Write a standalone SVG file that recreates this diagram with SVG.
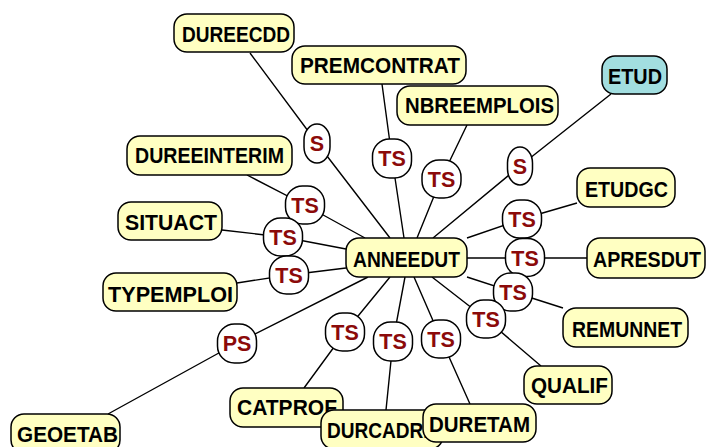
<svg xmlns="http://www.w3.org/2000/svg" width="706" height="447" viewBox="0 0 706 447">
  <style>
    .bg { fill: #ffffff; }
    .node rect { fill: #ffffc2; stroke: #000; stroke-width: 1.5; }
    .node.root rect { fill: #a2dee0; }
    .node text { font-family: "Liberation Sans", Arial, sans-serif; font-weight: bold; font-size: 22px; fill: #000; }
    .rel rect { fill: #ffffff; stroke: #000; stroke-width: 1.5; }
    .rel text { font-family: "Liberation Sans", Arial, sans-serif; font-weight: bold; font-size: 21.5px; fill: #8b0a0a; text-anchor: middle; }
    .links polyline { fill: none; stroke: #000; stroke-width: 1.4; }
  </style>
  <rect class="bg" x="0" y="0" width="706" height="447"/>

  <!-- connectors: ANNEEDUT -> relation bubble -> variable -->
  <g id="connectors" class="links">
    <polyline points="390,238 317,143 250,53"/>
    <polyline points="404,238 392,158 382,84"/>
    <polyline points="417,238 441,179 467,125"/>
    <polyline points="433,238 520,166 611,94"/>
    <polyline points="365,238 305,205 247,175"/>
    <polyline points="346,249 283,237 222,230"/>
    <polyline points="346,268 289,275 237,283"/>
    <polyline points="467,238 522,219 577,203"/>
    <polyline points="467,258 525,258 587,258"/>
    <polyline points="467,277 513,292 563,308"/>
    <polyline points="432,277 486,319 541,366"/>
    <polyline points="368,277 237,343 108,414"/>
    <polyline points="390,277 345,332 304,388"/>
    <polyline points="405,277 393,341 386,410"/>
    <polyline points="414,277 441,339 470,404"/>
  </g>

  <!-- variable nodes -->
  <g id="DUREECDD" class="node"><rect x="174" y="14" width="120" height="38" rx="13"/><text x="182" y="42" textLength="108" lengthAdjust="spacingAndGlyphs">DUREECDD</text></g>
  <g id="PREMCONTRAT" class="node"><rect x="292" y="46" width="174" height="38" rx="13"/><text x="300" y="73" textLength="160" lengthAdjust="spacingAndGlyphs">PREMCONTRAT</text></g>
  <g id="NBREEMPLOIS" class="node"><rect x="397" y="86" width="161" height="39" rx="13"/><text x="405" y="113" textLength="149" lengthAdjust="spacingAndGlyphs">NBREEMPLOIS</text></g>
  <g id="ETUD" class="node root"><rect x="602" y="56" width="65" height="38" rx="13"/><text x="608" y="84" textLength="54" lengthAdjust="spacingAndGlyphs">ETUD</text></g>
  <g id="DUREEINTERIM" class="node"><rect x="127" y="136" width="165" height="39" rx="13"/><text x="135" y="163" textLength="149" lengthAdjust="spacingAndGlyphs">DUREEINTERIM</text></g>
  <g id="ETUDGC" class="node"><rect x="577" y="168" width="98" height="39" rx="13"/><text x="585" y="197" textLength="83" lengthAdjust="spacingAndGlyphs">ETUDGC</text></g>
  <g id="SITUACT" class="node"><rect x="118" y="202" width="104" height="38" rx="13"/><text x="125" y="230" textLength="92" lengthAdjust="spacingAndGlyphs">SITUACT</text></g>
  <g id="ANNEEDUT" class="node"><rect x="346" y="238" width="121" height="39" rx="13"/><text x="353" y="267" textLength="107" lengthAdjust="spacingAndGlyphs">ANNEEDUT</text></g>
  <g id="APRESDUT" class="node"><rect x="587" y="238" width="118" height="40" rx="13"/><text x="593" y="267" textLength="108" lengthAdjust="spacingAndGlyphs">APRESDUT</text></g>
  <g id="TYPEMPLOI" class="node"><rect x="103" y="273" width="134" height="38" rx="13"/><text x="108" y="302" textLength="125" lengthAdjust="spacingAndGlyphs">TYPEMPLOI</text></g>
  <g id="REMUNNET" class="node"><rect x="563" y="308" width="125" height="39" rx="13"/><text x="572" y="337" textLength="110" lengthAdjust="spacingAndGlyphs">REMUNNET</text></g>
  <g id="QUALIF" class="node"><rect x="524" y="366" width="88" height="38" rx="13"/><text x="531" y="393" textLength="77" lengthAdjust="spacingAndGlyphs">QUALIF</text></g>
  <g id="GEOETAB" class="node"><rect x="11" y="414" width="109" height="39" rx="13"/><text x="17" y="442" textLength="101" lengthAdjust="spacingAndGlyphs">GEOETAB</text></g>
  <g id="CATPROF" class="node"><rect x="230" y="388" width="113" height="39" rx="13"/><text x="237" y="415" textLength="100" lengthAdjust="spacingAndGlyphs">CATPROF</text></g>
  <g id="DURCADRE" class="node"><rect x="321" y="410" width="122" height="39" rx="13"/><text x="327" y="438" textLength="109" lengthAdjust="spacingAndGlyphs">DURCADRE</text></g>
  <g id="DURETAM" class="node"><rect x="423" y="404" width="113" height="38" rx="13"/><text x="429" y="432" textLength="101" lengthAdjust="spacingAndGlyphs">DURETAM</text></g>

  <!-- relation bubbles -->
  <g id="rel-DUREECDD" class="rel"><rect x="304" y="124" width="26" height="39" rx="13" ry="16"/><text x="317" y="151">S</text></g>
  <g id="rel-PREMCONTRAT" class="rel"><rect x="372.5" y="139" width="39" height="39" rx="17"/><text x="392" y="166">TS</text></g>
  <g id="rel-NBREEMPLOIS" class="rel"><rect x="422" y="160" width="39" height="38" rx="17"/><text x="441.5" y="187">TS</text></g>
  <g id="rel-ETUD" class="rel"><rect x="507.5" y="147" width="25" height="38" rx="12.5" ry="16"/><text x="520" y="174">S</text></g>
  <g id="rel-DUREEINTERIM" class="rel"><rect x="285.5" y="186" width="39" height="38" rx="17"/><text x="305" y="213">TS</text></g>
  <g id="rel-SITUACT" class="rel"><rect x="263.5" y="218" width="39" height="38" rx="17"/><text x="283" y="245">TS</text></g>
  <g id="rel-TYPEMPLOI" class="rel"><rect x="269.5" y="256" width="39" height="38" rx="17"/><text x="289" y="283">TS</text></g>
  <g id="rel-ETUDGC" class="rel"><rect x="502.5" y="200" width="39" height="38" rx="17"/><text x="522" y="227">TS</text></g>
  <g id="rel-APRESDUT" class="rel"><rect x="505.5" y="238.5" width="39" height="38" rx="17"/><text x="525" y="266">TS</text></g>
  <g id="rel-REMUNNET" class="rel"><rect x="493.5" y="273" width="39" height="38" rx="17"/><text x="513" y="300">TS</text></g>
  <g id="rel-QUALIF" class="rel"><rect x="466.5" y="300" width="39" height="38" rx="17"/><text x="486" y="327">TS</text></g>
  <g id="rel-GEOETAB" class="rel"><rect x="217.5" y="324" width="39" height="39" rx="17"/><text x="237" y="351">PS</text></g>
  <g id="rel-CATPROF" class="rel"><rect x="325.5" y="313" width="39" height="38" rx="17"/><text x="345" y="340">TS</text></g>
  <g id="rel-DURCADRE" class="rel"><rect x="373.5" y="322" width="39" height="39" rx="17"/><text x="393" y="349">TS</text></g>
  <g id="rel-DURETAM" class="rel"><rect x="421.5" y="320" width="39" height="38" rx="17"/><text x="441" y="347">TS</text></g>
</svg>
